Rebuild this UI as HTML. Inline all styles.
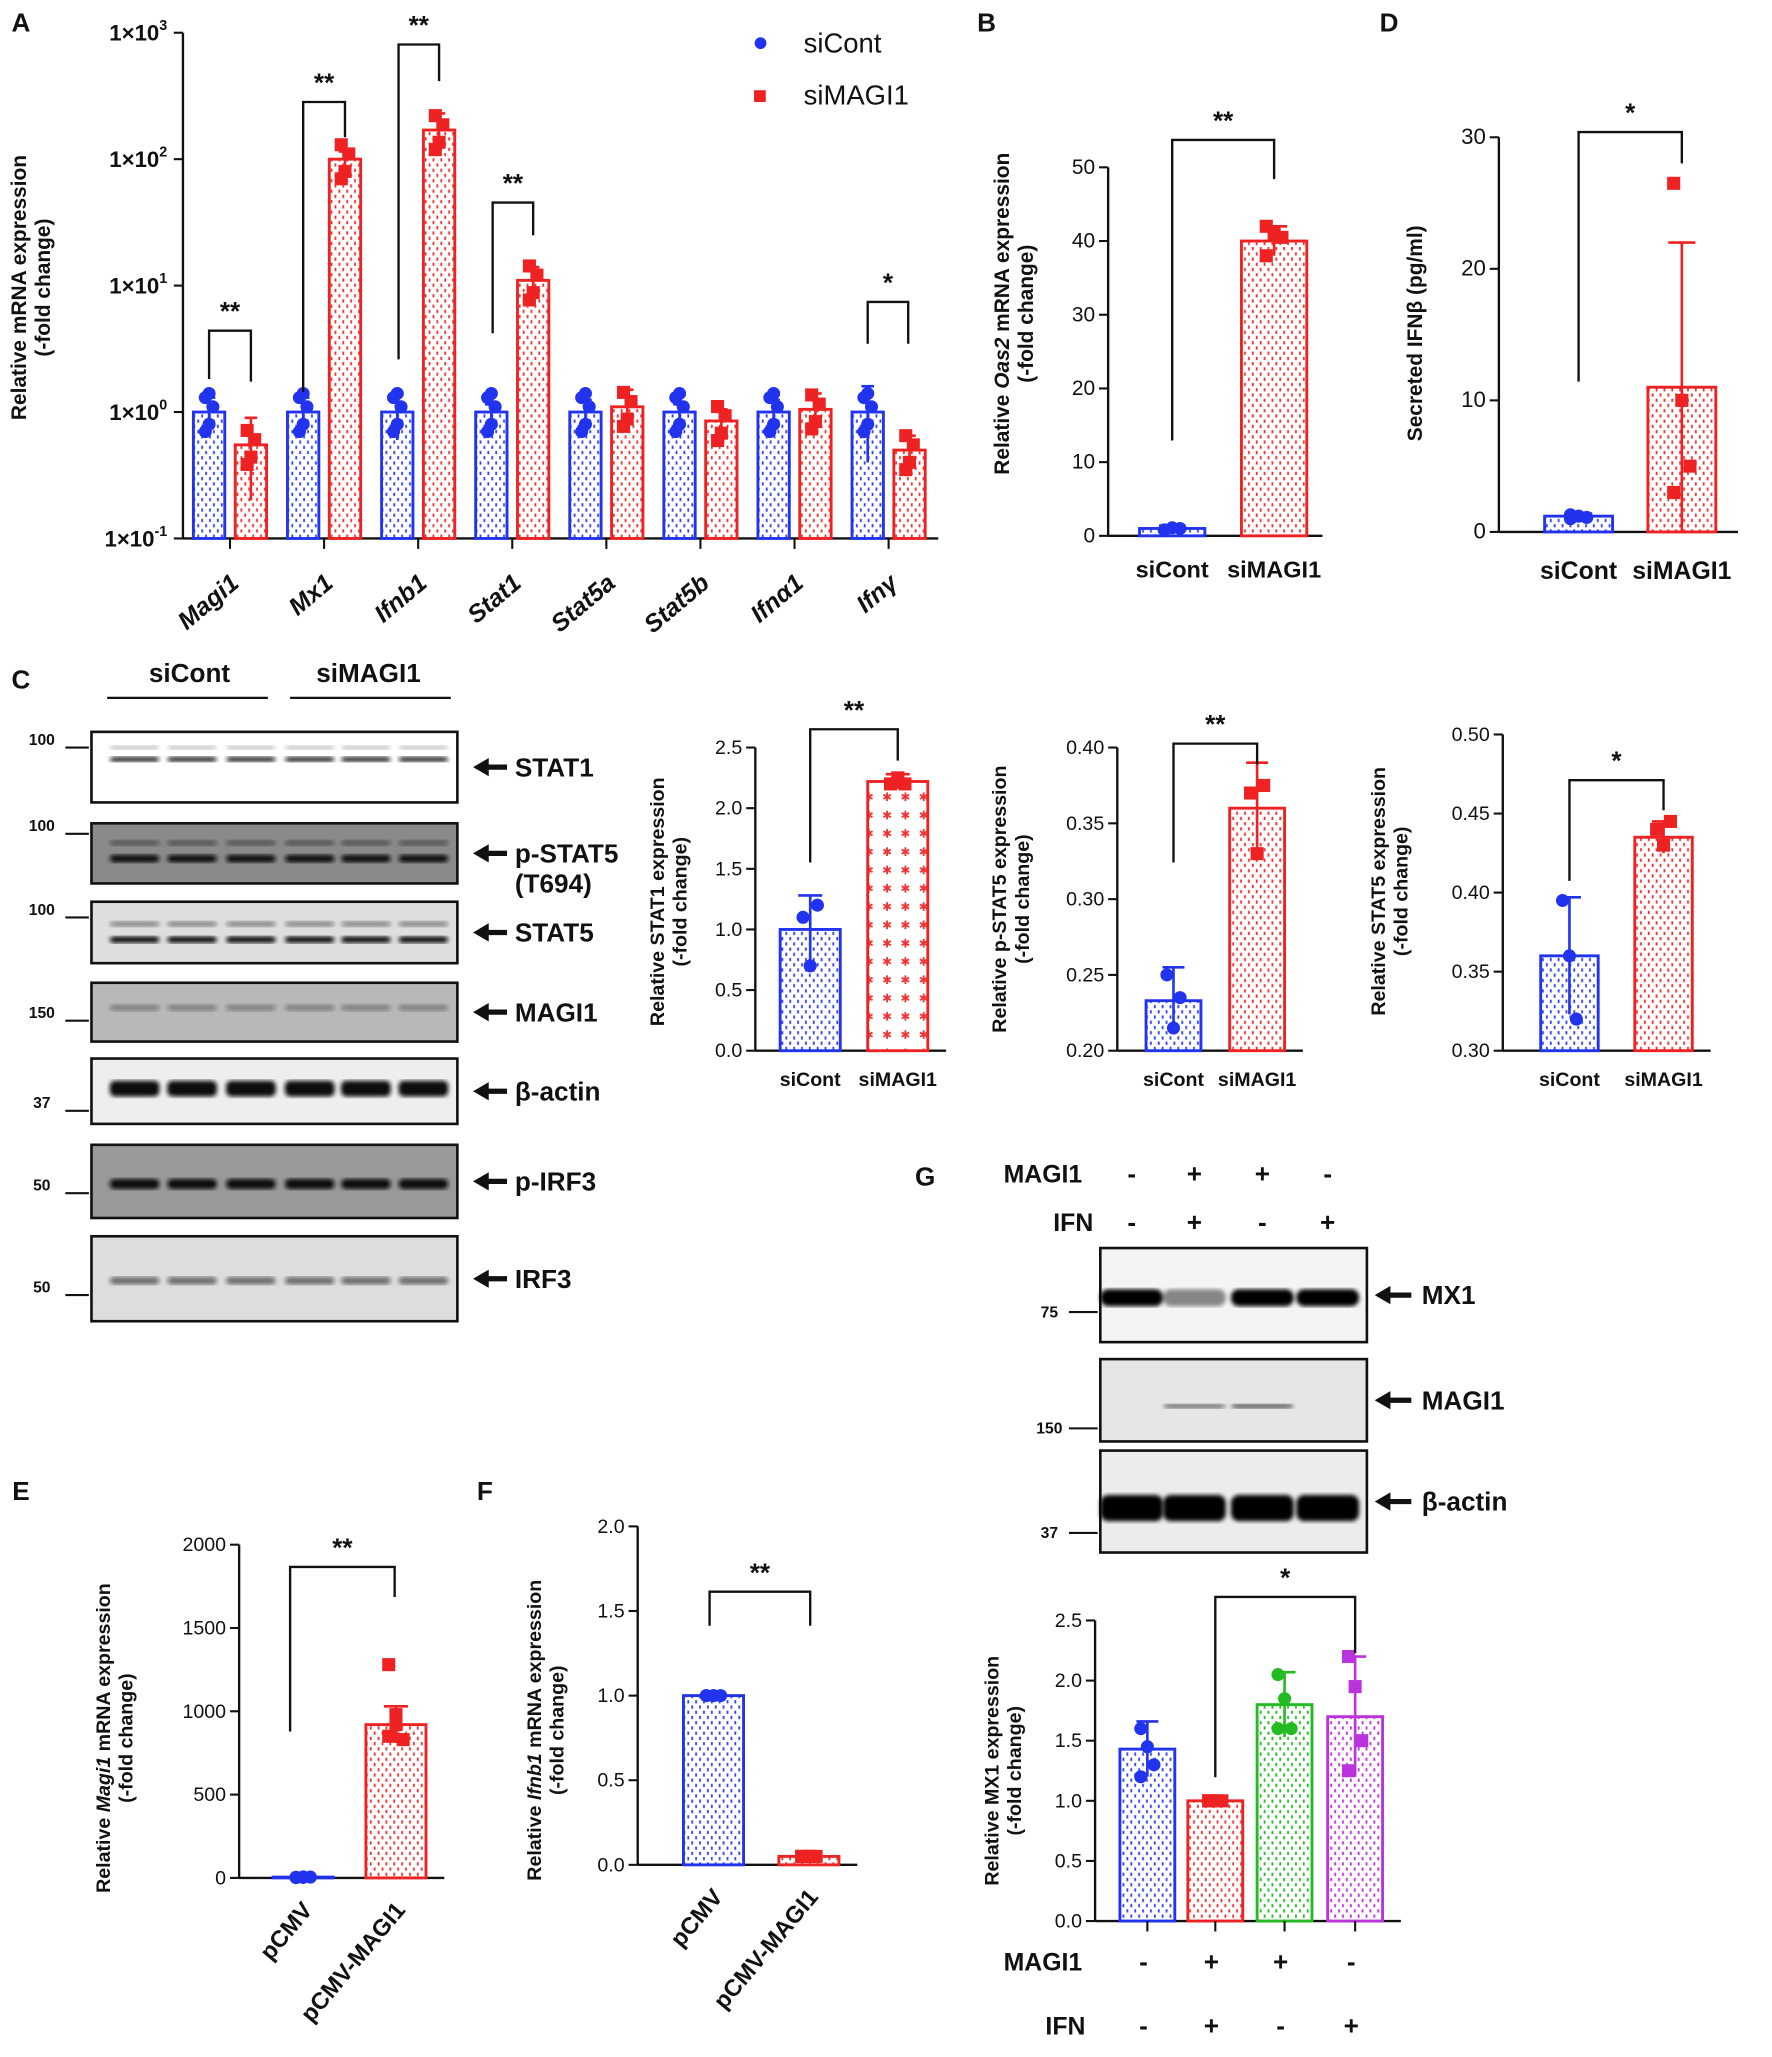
<!DOCTYPE html>
<html><head><meta charset="utf-8">
<style>
html,body{margin:0;padding:0;background:#fff;}
svg{display:block;font-family:"Liberation Sans",Arial,sans-serif;}
</style></head>
<body>
<svg id="fig" xmlns="http://www.w3.org/2000/svg" width="1772" height="2057" viewBox="0 0 1356 1574">
<defs>
<pattern id="pb" width="6" height="8" patternUnits="userSpaceOnUse"><rect width="6" height="8" fill="#fff"/><rect x="1" y="1" width="1.4" height="2.5" fill="#3344ee"/><rect x="4" y="5" width="1.4" height="2.5" fill="#3344ee"/></pattern>
<pattern id="pr" width="6" height="8" patternUnits="userSpaceOnUse"><rect width="6" height="8" fill="#fff"/><rect x="1" y="1" width="1.4" height="2.5" fill="#ee3333"/><rect x="4" y="5" width="1.4" height="2.5" fill="#ee3333"/></pattern>
<pattern id="pg" width="6" height="8" patternUnits="userSpaceOnUse"><rect width="6" height="8" fill="#fff"/><rect x="1" y="1" width="1.4" height="2.5" fill="#22bb22"/><rect x="4" y="5" width="1.4" height="2.5" fill="#22bb22"/></pattern>
<pattern id="pp" width="6" height="8" patternUnits="userSpaceOnUse"><rect width="6" height="8" fill="#fff"/><rect x="1" y="1" width="1.4" height="2.5" fill="#bb33dd"/><rect x="4" y="5" width="1.4" height="2.5" fill="#bb33dd"/></pattern>
<pattern id="prc" width="14" height="14" patternUnits="userSpaceOnUse"><rect width="14" height="14" fill="#fff"/><text x="3" y="11" font-size="9" fill="#e33">✱</text></pattern>
<filter id="blur"><feGaussianBlur stdDeviation="1.6"/></filter>
</defs>
</svg>
<script>
// ---------- DATA ----------
const aGenes=['Magi1','Mx1','Ifnb1','Stat1','Stat5a','Stat5b','Ifnα1','Ifnγ'];
const aCont=[1.0,1.0,1.0,1.0,1.0,1.0,1.0,1.0];
const aContErr=[0.3,0.3,0.4,0.15,0.25,0.15,0.25,0.6];
const aMagi=[0.55,100,170,11,1.1,0.85,1.05,0.5];
const aMagiErr=[0.35,15,60,3,0.4,0.2,0.35,0.15];
const aTickVals=[0.1,1,10,100,1000];
const aTickExp=['-1','0','1','2','3'];
const bCats=['siCont','siMAGI1'];const bVals=[1,40];const bErr=[0.4,2];const bPts=[[0.8,1.1,1.0],[38,41,40.5,42]];const bTicks=[0,10,20,30,40,50];
const dCats=['siCont','siMAGI1'];const dVals=[1.2,11];const dErr=[0.2,11];const dPts=[[1,1.2,1.1,1.3,1.2],[26.5,10,5,3]];const dTicks=[0,10,20,30];
const c1Vals=[1.0,2.22];const c1Err=[0.28,0.06];const c1Pts=[[1.1,0.7,1.2],[2.2,2.25,2.2]];const c1Ticks=[0,0.5,1,1.5,2,2.5];
const c2Vals=[0.233,0.36];const c2Err=[0.022,0.03];const c2Pts=[[0.25,0.215,0.235],[0.37,0.33,0.375]];const c2Ticks=[0.2,0.25,0.3,0.35,0.4];
const c3Vals=[0.36,0.435];const c3Err=[0.037,0.01];const c3Pts=[[0.395,0.36,0.32],[0.44,0.43,0.445]];const c3Ticks=[0.3,0.35,0.4,0.45,0.5];
const eCats=['pCMV','pCMV-MAGI1'];const eVals=[5,920];const eErr=[2,110];const ePts=[[2,3,5,4,6],[1280,920,830,850,980]];const eTicks=[0,500,1000,1500,2000];
const fCats=['pCMV','pCMV-MAGI1'];const fVals=[1.0,0.05];const fErr=[0,0.01];const fPts=[[1,1,1,1,1],[0.05,0.05,0.05,0.05,0.05]];const fTicks=[0,0.5,1.0,1.5,2.0];
const gVals=[1.43,1.0,1.8,1.7];const gErr=[0.23,0.01,0.27,0.5];const gPts=[[1.6,1.45,1.3,1.2],[1,1,1,1],[2.05,1.85,1.6,1.6],[2.2,1.95,1.5,1.25]];const gTicks=[0,0.5,1.0,1.5,2.0,2.5];

const NS='http://www.w3.org/2000/svg';
const svg=document.getElementById('fig');
function mk(tag,attrs,parent,name){
  const e=document.createElementNS(NS,tag);
  for(const k in attrs) e.setAttribute(k,attrs[k]);
  
  
  (parent||svg).appendChild(e);return e;
}
function txt(x,y,s,size,opts,name){
  opts=opts||{};
  const t=mk('text',{x:x,y:y,'font-size':size,'font-weight':opts.w||'bold','text-anchor':opts.a||'middle',fill:opts.fill||'#111','font-style':opts.i?'italic':'normal',transform:opts.rot!==undefined?`rotate(${opts.rot} ${x} ${y})`:''},opts.p,name);
  t.textContent=s;return t;
}
function line(x1,y1,x2,y2,name,w,c,p){return mk('line',{x1:x1,y1:y1,x2:x2,y2:y2,stroke:c||'#111','stroke-width':w||1.6},p,name);}
function linY(v0,v1,p0,p1){return v=>p0+(v-v0)*(p1-p0)/(v1-v0);}
function logY(p0,p1){return v=>p0+(Math.log10(v)+1)*(p1-p0)/4;}

function yAxis(x,ymap,ticks,labels,size,name){
  const g=mk('g',{},svg,name);
  line(x,ymap(ticks[0]),x,ymap(ticks[ticks.length-1]),'y-axis-line',1.8,'#111',g);
  ticks.forEach((t,i)=>{const y=ymap(t);line(x-7,y,x,y,'y-tick',1.6,'#111',g);
    if(labels) txt(x-10,y+5,labels[i],size,{a:'end',w:'normal',p:g},'y-tick-label');});
  return g;
}
function bars(xs,vals,errs,pts,fills,strokes,ymap,base,w,shape,name){
  const g=mk('g',{},svg,name);
  vals.forEach((v,i)=>{
    const y=ymap(v),y0=ymap(base);
    mk('rect',{x:xs[i]-w/2,y:y,width:w,height:y0-y,fill:fills[i],stroke:strokes[i],'stroke-width':2.2},g,'bar-'+i);
    const yt=ymap(v+errs[i]),yb=ymap(Math.max(v-errs[i],base));
    line(xs[i],yt,xs[i],yb,'error-bar',2,strokes[i],g);
    line(xs[i]-w*0.2,yt,xs[i]+w*0.2,yt,'error-cap',2,strokes[i],g);
    (pts[i]||[]).forEach((p,j)=>{
      const px=xs[i]+((j%3)-1)*w*0.12, py=ymap(p);
      if(shape[i]==='s') mk('rect',{x:px-5,y:py-5,width:10,height:10,fill:strokes[i]},g,'data-point');
      else mk('circle',{cx:px,cy:py,r:5,fill:strokes[i]},g,'data-point');
    });
  });
  return g;
}
function bracket(x1,x2,yTop,y1,y2,star,name){
  const g=mk('g',{},svg,name);
  mk('path',{d:`M${x1},${y1} V${yTop} H${x2} V${y2}`,fill:'none',stroke:'#111','stroke-width':1.8},g,'bracket-line');
  txt((x1+x2)/2,yTop-8,star,20,{p:g},'significance-stars');
}
function ylabel(x,y,lines,size,name){
  const g=mk('g',{},svg,name);
  lines.forEach((l,i)=>{const t=txt(x+i*size*1.15,y,'',size,{rot:-90,p:g,w:'bold'},'axis-title-line');
    l.forEach(seg=>{const s=document.createElementNS(NS,'tspan');s.textContent=seg[0];if(seg[1])s.setAttribute('font-style','italic');
      
      
      t.appendChild(s);});});
}
function xAxis(x1,x2,y,name){line(x1,y,x2,y,name,1.8);}

// ---------- Panel letters ----------
[['A',16,24],['B',755,24],['D',1063,24],['C',16,527],['G',708,907],['E',16,1148],['F',371,1148]].forEach(l=>txt(l[1],l[2],l[0],20,{}, 'panel-label-'+l[0].toLowerCase()));

// ---------- Panel A ----------
const ay=logY(412,25);
const ag=yAxis(140,ay,aTickVals,null,16,'panel-a-y-axis');
aTickVals.forEach((t,i)=>{const tt=txt(128,ay(t)+6,'1×10',17,{a:'end',w:'bold',p:ag},'y-tick-label');
  const s=document.createElementNS(NS,'tspan');s.setAttribute('dy','-8');s.setAttribute('font-size','11');s.textContent=aTickExp[i];
  
  
  tt.appendChild(s);});
xAxis(140,718,412,'panel-a-x-axis');
const aX=aGenes.map((g,i)=>160+i*72);
const aXR=aX.map(x=>x+32);
bars(aX,aCont,aContErr,aCont.map(v=>[v*1.3,v*0.8,v*1.1,v*0.7,v*1.4]),aX.map(()=>'url(#pb)'),aX.map(()=>'#2233ee'),ay,0.1,24,aX.map(()=>'c'),'panel-a-sicont-bars');
bars(aXR,aMagi,aMagiErr,aMagi.map(v=>[v*1.3,v*0.8,v*1.1,v*0.7]),aX.map(()=>'url(#pr)'),aX.map(()=>'#ee2222'),ay,0.1,24,aX.map(()=>'s'),'panel-a-simagi1-bars');
aGenes.forEach((g,i)=>{const cx=(aX[i]+aXR[i])/2;line(cx,412,cx,420,'x-tick');txt(cx+8,448,g,19,{i:true,rot:-40,a:'end'},'x-label-'+i);});
bracket(160,192,253,290,292,'**','bracket-magi1');
bracket(232,264,78,300,105,'**','bracket-mx1');
bracket(305,336,34,275,62,'**','bracket-ifnb1');
bracket(377,408,155,255,180,'**','bracket-stat1');
bracket(664,695,231,263,263,'*','bracket-ifny');
ylabel(20,220,[[['Relative mRNA expression']],[['(-fold change)']]],16,'panel-a-y-title');
mk('circle',{cx:582,cy:33,r:4.5,fill:'#2233ee'},svg,'legend-marker-sicont');
txt(615,40,'siCont',21,{a:'start',w:'normal'},'legend-label-sicont');
mk('rect',{x:577,y:69,width:9,height:9,fill:'#ee2222'},svg,'legend-marker-simagi1');
txt(615,80,'siMAGI1',21,{a:'start',w:'normal'},'legend-label-simagi1');

// ---------- Panel B ----------
const by=linY(0,50,410,128);
yAxis(848,by,bTicks,bTicks.map(String),16,'panel-b-y-axis');
xAxis(848,1012,410,'panel-b-x-axis');
bars([897,975],bVals,bErr,bPts,['url(#pb)','url(#pr)'],['#2233ee','#ee2222'],by,0,50,['c','s'],'panel-b-bars');
bCats.forEach((c,i)=>txt([897,975][i],442,c,18,{},'panel-b-x-label-'+i));
bracket(897,975,107,337,137,'**','panel-b-bracket');
ylabel(772,240,[[['Relative '],['Oas2',1],[' mRNA expression']],[['(-fold change)']]],16,'panel-b-y-title');

// ---------- Panel D ----------
const dy=linY(0,30,407,105);
yAxis(1147,dy,dTicks,dTicks.map(String),17,'panel-d-y-axis');
xAxis(1147,1330,407,'panel-d-x-axis');
bars([1208,1287],dVals,dErr,dPts,['url(#pb)','url(#pr)'],['#2233ee','#ee2222'],dy,0,52,['c','s'],'panel-d-bars');
dCats.forEach((c,i)=>txt([1208,1287][i],443,c,19,{},'panel-d-x-label-'+i));
bracket(1208,1287,101,292,125,'*','panel-d-bracket');
ylabel(1088,255,[[['Secreted IFNβ (pg/ml)']]],16,'panel-d-y-title');

// ---------- Panel C blots ----------
txt(145,522,'siCont',20,{},'group-label-sicont');txt(282,522,'siMAGI1',20,{},'group-label-simagi1');
line(82,534,205,534,'group-line-sicont',1.8);line(222,534,345,534,'group-line-simagi1',1.8);
const blots=[
 {n:'STAT1',y:560,h:54,bg:'#fff',bands:[[21,0.9,4],[12,0.25,3]],mw:'100',mwy:572},
 {n:'p-STAT5',y:630,h:46,bg:'#8a8a8a',bands:[[27,1,6],[15,0.5,4]],mw:'100',mwy:638},
 {n:'STAT5',y:690,h:47,bg:'#dedede',bands:[[29,1,5],[17,0.45,4]],mw:'100',mwy:702},
 {n:'MAGI1',y:752,h:45,bg:'#b8b8b8',bands:[[19,0.35,5]],mw:'150',mwy:781},
 {n:'β-actin',y:810,h:50,bg:'#eee',bands:[[23,1,12]],mw:'37',mwy:850},
 {n:'p-IRF3',y:876,h:56,bg:'#999',bands:[[30,1,8]],mw:'50',mwy:913},
 {n:'IRF3',y:946,h:65,bg:'#ddd',bands:[[34,0.55,6]],mw:'50',mwy:991}
];
const laneX=[103,147,192,237,280,324];
blots.forEach((b,bi)=>{
  const g=mk('g',{},svg,'blot-'+bi);
  mk('rect',{x:70,y:b.y,width:280,height:b.h,fill:b.bg,stroke:'#111','stroke-width':2},g,'blot-membrane');
  b.bands.forEach(bd=>laneX.forEach(lx=>mk('rect',{x:lx-19,y:b.y+bd[0]-bd[2]/2,width:38,height:bd[2],rx:4,fill:'#111','fill-opacity':bd[1],filter:'url(#blur)'},g,'band')));
  txt(32,b.mwy-2,b.mw,12,{w:'bold',p:g},'mw-marker');line(50,b.mwy,68,b.mwy,'mw-tick',1.6,'#111',g);
  const ay2=b.y+b.h/2;
  mk('path',{d:`M362,${ay2} l12,-7 v5 h14 v4 h-14 v5 z`,fill:'#111'},g,'arrow');
  txt(394,ay2+7,b.n,20,{a:'start',p:g},'blot-label');
});
txt(394,683,'(T694)',20,{a:'start'},'blot-label-t694');

// ---------- Panel C charts ----------
function smallChart(ax,y0,y1,v0,v1,ticks,labs,vals,errs,pts,xs,fills,strokes,br,title,name,cats,w){
  const ym=linY(v0,v1,y0,y1);
  yAxis(ax,ym,ticks,labs,15,name+'-y-axis');
  xAxis(ax,xs[xs.length-1]+w/2+14,y0,name+'-x-axis');
  bars(xs,vals,errs,pts,fills,strokes,ym,v0,w,xs.map((x,i)=>i%2?'s':'c'),name+'-bars');
  if(cats) cats.forEach((c,i)=>txt(xs[i],y0+27,c,15,{},name+'-x-label-'+i));
  if(br) bracket(br[0],br[1],br[2],br[3],br[4],br[5],name+'-bracket');
  ylabel(title.x,title.y,title.l,15,name+'-y-title');
}
smallChart(578,804,572,0,2.5,c1Ticks,['0.0','0.5','1.0','1.5','2.0','2.5'],c1Vals,c1Err,c1Pts,[620,687],['url(#pb)','url(#prc)'],['#2233ee','#ee2222'],[620,687,558,660,582,'**'],{x:508,y:690,l:[[['Relative STAT1  expression']],[['(-fold change)']]]},'panel-c-stat1',['siCont','siMAGI1'],46);
smallChart(855,804,572,0.2,0.4,c2Ticks,['0.20','0.25','0.30','0.35','0.40'],c2Vals,c2Err,c2Pts,[898,962],['url(#pb)','url(#pr)'],['#2233ee','#ee2222'],[898,962,569,660,585,'**'],{x:770,y:688,l:[[['Relative p-STAT5 expression']],[['(-fold change)']]]},'panel-c-pstat5',['siCont','siMAGI1'],42);
smallChart(1150,804,562,0.3,0.5,c3Ticks,['0.30','0.35','0.40','0.45','0.50'],c3Vals,c3Err,c3Pts,[1201,1273],['url(#pb)','url(#pr)'],['#2233ee','#ee2222'],[1201,1273,597,674,620,'*'],{x:1060,y:682,l:[[['Relative STAT5 expression']],[['(-fold change)']]]},'panel-c-stat5',['siCont','siMAGI1'],44);

// ---------- Panel E ----------
smallChart(183,1437,1182,0,2000,eTicks,eTicks.map(String),eVals,eErr,ePts,[232,303],['url(#pb)','url(#pr)'],['#2233ee','#ee2222'],[222,302,1199,1325,1222,'**'],{x:84,y:1330,l:[[['Relative '],['Magi1',1],[' mRNA expression']],[['(-fold change)']]]},'panel-e',null,46);
eCats.forEach((c,i)=>txt([232,303][i]+8,1462,c,18,{a:'end',rot:-50},'panel-e-x-label-'+i));
// ---------- Panel F ----------
smallChart(488,1427,1168,0,2.0,fTicks,['0.0','0.5','1.0','1.5','2.0'],fVals,fErr,fPts,[546,619],['url(#pb)','url(#pr)'],['#2233ee','#ee2222'],[543,620,1218,1244,1244,'**'],{x:414,y:1324,l:[[['Relative '],['Ifnb1',1],[' mRNA expression']],[['(-fold change)']]]},'panel-f',null,46);
fCats.forEach((c,i)=>txt([546,619][i]+8,1452,c,18,{a:'end',rot:-50},'panel-f-x-label-'+i));

// ---------- Panel G ----------
const gx=[878,930,983,1037];
const gMagi=['-','+','+','-'],gIfn=['-','+','-','+'];
txt(768,905,'MAGI1',19,{a:'start'},'g-magi1-label');txt(806,942,'IFN',19,{a:'start'},'g-ifn-label');
const gLane=[866,914,966,1016];
gLane.forEach((x,i)=>{txt(x,905,gMagi[i],20,{},'g-magi1-sign');txt(x,942,gIfn[i],20,{},'g-ifn-sign');});
const gBlots=[{n:'MX1',y:955,h:72,bg:'#f4f4f4',mw:'75',mwy:1004,b:[[38,[1,0.45,1,1],13]]},{n:'MAGI1',y:1040,h:63,bg:'#e6e6e6',mw:'150',mwy:1093,b:[[36,[0,0.6,0.7,0],3]]},{n:'β-actin',y:1110,h:78,bg:'#ececec',mw:'37',mwy:1173,b:[[44,[1,1,1,1],20]]}];
gBlots.forEach((b,bi)=>{
  const g=mk('g',{},svg,'g-blot-'+bi);
  mk('rect',{x:842,y:b.y,width:204,height:b.h,fill:b.bg,stroke:'#111','stroke-width':2},g,'blot-membrane');
  b.b.forEach(bd=>gLane.forEach((lx,i)=>mk('rect',{x:lx-24,y:b.y+bd[0]-bd[2]/2,width:48,height:bd[2],rx:6,fill:'#000','fill-opacity':bd[1][i],filter:'url(#blur)'},g,'band')));
  txt(803,b.mwy+4,b.mw,12,{p:g},'mw-marker');line(818,b.mwy,840,b.mwy,'mw-tick',1.6,'#111',g);
  const ay2=b.y+b.h/2;
  mk('path',{d:`M1052,${ay2} l12,-7 v5 h16 v4 h-16 v5 z`,fill:'#111'},g,'arrow');
  txt(1088,ay2+7,b.n,20,{a:'start',p:g},'blot-label');
});
smallChart(838,1470,1240,0,2.5,gTicks,['0.0','0.5','1.0','1.5','2.0','2.5'],gVals,gErr,gPts,gx,['url(#pb)','url(#pr)','url(#pg)','url(#pp)'],['#2233ee','#ee2222','#22bb22','#bb33dd'],[930,1037,1222,1360,1265,'*'],{x:764,y:1355,l:[[['Relative MX1 expression']],[['(-fold change)']]]},'panel-g',null,42);
gx.forEach(x=>line(x,1470,x,1478,'x-tick'));
txt(768,1508,'MAGI1',19,{a:'start'},'g-bottom-magi1-label');txt(800,1557,'IFN',19,{a:'start'},'g-bottom-ifn-label');
gx.forEach((x,i)=>{txt(x-3,1508,gMagi[i],20,{},'g-bottom-magi1-sign');txt(x-3,1557,gIfn[i],20,{},'g-bottom-ifn-sign');});
</script>
</body></html>
